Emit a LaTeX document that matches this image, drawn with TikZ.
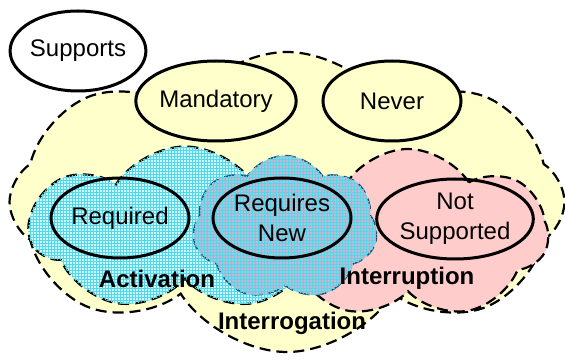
\documentclass[tikz,border=0pt]{standalone}
\usepackage{fontspec}
\setmainfont{Liberation Sans}
\usetikzlibrary{shapes.geometric,shapes.symbols,patterns}

\definecolor{interfill}{RGB}{255,255,204}
\definecolor{actfill}{RGB}{205,252,252}
\definecolor{actgrid}{RGB}{85,215,235}
\definecolor{intrfill}{RGB}{255,204,204}
\definecolor{newfill}{RGB}{195,185,210}
\definecolor{newedge}{RGB}{30,80,110}

\tikzset{
  attr/.style={ellipse, draw, line width=3pt, inner sep=0pt,
    minimum width=138pt, minimum height=80pt, align=center,
    font=\fontsize{24}{30}\selectfont},
  group/.style={cloud, cloud puffs=#1, cloud puff arc=115, cloud ignores aspect,
    draw, line width=2.2pt, dash pattern=on 11pt off 6pt},
  gridded/.style={postaction={pattern=grid, pattern color=actgrid}},
  grouptitle/.style={font=\bfseries\fontsize{24}{29}\selectfont}
}

\begin{document}
\begin{tikzpicture}[x=1pt,y=-1pt]
  \useasboundingbox (0,0) rectangle (565,363);

  % the three scopes
  \node[group=8, fill=interfill, minimum width=555pt, minimum height=300pt] (interrogation) at (287,202) {};
  \node[group=7, fill=intrfill, minimum width=280pt, minimum height=170pt] (interruption) at (408,234) {};
  \node[group=7, fill=actfill, gridded, minimum width=310pt, minimum height=165pt] (activation) at (185,229) {};
  \node[group=7, fill=newfill, gridded, draw=newedge, line width=1.4pt, minimum width=185pt, minimum height=145pt] (overlap) at (285,228) {};

  % attributes
  \node[attr, minimum width=124pt] (supports) at (78,51) {Supports};
  \node[attr, fill=interfill] (mandatory) at (216,101) {Mandatory};
  \node[attr, fill=interfill] (never) at (392,101) {Never};
  \node[attr] (required) at (120,218) {Required};
  \node[attr] (requiresnew) at (282,218) {Requires\\New};
  \node[attr] (notsupported) at (455,219) {Not\\Supported};

  % scope names
  \node[grouptitle] (actname) at (157,279) {Activation};
  \node[grouptitle] (intrname) at (407,278) {Interruption};
  \node[grouptitle] (intgname) at (292,323) {Interrogation};
\end{tikzpicture}
\end{document}
